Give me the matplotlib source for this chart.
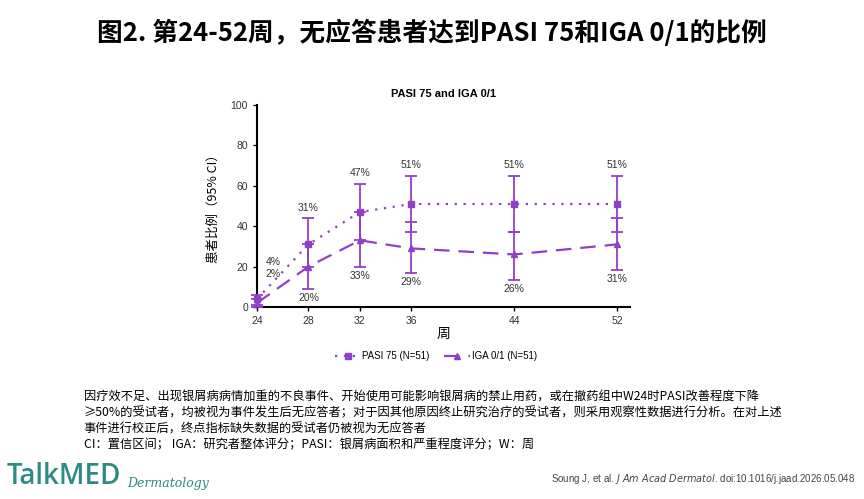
import matplotlib
matplotlib.use("Agg")
from matplotlib import pyplot as plt
from matplotlib.lines import Line2D

plt.rcParams['font.family'] = ['Noto Sans CJK SC', 'DejaVu Sans']

# 数据
weeks = [24, 28, 32, 36, 44, 52]
pasi = [4, 31, 47, 51, 51, 51]
pasi_lo = [1, 20, 33, 37.3, 37.3, 37.3]
pasi_hi = [6, 44, 61, 65, 65, 65]
iga = [2, 20, 33, 29, 26, 31]
iga_lo = [0, 9, 20, 17, 13.5, 18.5]
iga_hi = [4, 31, 47, 42, 37.3, 44]
xticks = [24, 28, 32, 36, 44, 52]
yticks = [0, 20, 40, 60, 80, 100]

purple = '#9040c8'
txt = '#333333'
latin = ['Liberation Sans', 'DejaVu Sans']

fig = plt.figure(figsize=(8.64, 4.99), dpi=100)
fig.text(0.5, 0.933, '图2. 第24-52周，无应答患者达到PASI 75和IGA 0/1的比例',
         ha='center', va='center', fontsize=18.5, fontweight='bold')

ax = fig.add_axes([0.2975, 0.3848, 0.4315, 0.4048])

yerr_p = [[p - l for p, l in zip(pasi, pasi_lo)], [h - p for p, h in zip(pasi, pasi_hi)]]
yerr_i = [[p - l for p, l in zip(iga, iga_lo)], [h - p for p, h in zip(iga, iga_hi)]]

ls_p = (0, (1, 3))
ls_i = (0, (7, 4))
ax.errorbar(weeks, pasi, yerr=yerr_p, color=purple, linestyle=ls_p, lw=1.6,
            marker='s', ms=5, capsize=4, capthick=1.3, elinewidth=1.3,
            clip_on=False, zorder=3)
ax.errorbar(weeks, iga, yerr=yerr_i, color=purple, linestyle=ls_i, lw=1.6,
            marker='^', ms=5, capsize=4, capthick=1.3, elinewidth=1.3,
            clip_on=False, zorder=3)

# 数值标签
for i in range(1, len(weeks)):
    ax.annotate(f'{pasi[i]}%', (weeks[i], pasi_hi[i]), xytext=(0, 4),
                textcoords='offset points', ha='center', va='bottom',
                fontsize=7.5, color=txt, family=latin)
    ax.annotate(f'{iga[i]}%', (weeks[i], iga_lo[i]), xytext=(0, -3),
                textcoords='offset points', ha='center', va='top',
                fontsize=7.5, color=txt, family=latin)
ax.annotate(f'{pasi[0]}%', (weeks[0], 22.5), xytext=(6, 0), textcoords='offset points',
            ha='left', va='center', fontsize=7.5, color=txt, family=latin)
ax.annotate(f'{iga[0]}%', (weeks[0], 16.5), xytext=(6, 0), textcoords='offset points',
            ha='left', va='center', fontsize=7.5, color=txt, family=latin)

ax.set_xlim(24, 53)
ax.set_ylim(0, 100)
ax.set_xticks(xticks)
ax.set_yticks(yticks)
ax.tick_params(labelsize=7.5, length=3, width=1, colors='black', labelcolor=txt)
for lab in ax.get_xticklabels() + ax.get_yticklabels():
    lab.set_family(latin)
for s in ['top', 'right']:
    ax.spines[s].set_visible(False)
for s in ['left', 'bottom']:
    ax.spines[s].set_linewidth(1.5)

ax.set_title('PASI 75 and IGA 0/1', fontsize=8, fontweight='bold', pad=6, family=latin)
ax.set_ylabel('患者比例（95% CI）', fontsize=9, labelpad=8)
ax.set_xlabel('周', fontsize=10, labelpad=1)

handles = [Line2D([], [], color=purple, linestyle=ls_p, lw=1.6, marker='s', ms=5),
           Line2D([], [], color=purple, linestyle=ls_i, lw=1.6, marker='^', ms=5)]
ax.legend(handles, ['PASI 75 (N=51)', 'IGA 0/1 (N=51)'], loc='upper center',
          bbox_to_anchor=(0.48, -0.175), ncol=2, frameon=False, handlelength=2.6,
          columnspacing=1.5, handletextpad=0.2, prop={'family': latin, 'size': 7})

notes = ['因疗效不足、出现银屑病病情加重的不良事件、开始使用可能影响银屑病的禁止用药，或在撤药组中W24时PASI改善程度下降',
         '≥50%的受试者，均被视为事件发生后无应答者；对于因其他原因终止研究治疗的受试者，则采用观察性数据进行分析。在对上述',
         '事件进行校正后，终点指标缺失数据的受试者仍被视为无应答者',
         'CI：置信区间； IGA：研究者整体评分；PASI：银屑病面积和严重程度评分；W：周']
for k, line in enumerate(notes):
    fig.text(0.097, 1 - (397 + 16 * k) / 499, line, ha='left', va='center', fontsize=8.8)

fig.text(0.008, 1 - 477 / 499, 'TalkMED', ha='left', va='center', fontsize=20,
         color='#2e8b84', fontweight='semibold', family=['Open Sans', 'DejaVu Sans'])
fig.text(0.147, 1 - 484 / 499, 'Dermatology', ha='left', va='center', fontsize=9,
         color='#2e8b84', style='italic', family=['DejaVu Serif'])
fig.text(0.99, 1 - 479 / 499,
         r'Soung J, et al. $\it{J\ Am\ Acad\ Dermatol}$. doi:10.1016/j.jaad.2026.05.048',
         ha='right', va='center', fontsize=7, color='#444444', family=latin)

plt.savefig('out.png', dpi=100)
